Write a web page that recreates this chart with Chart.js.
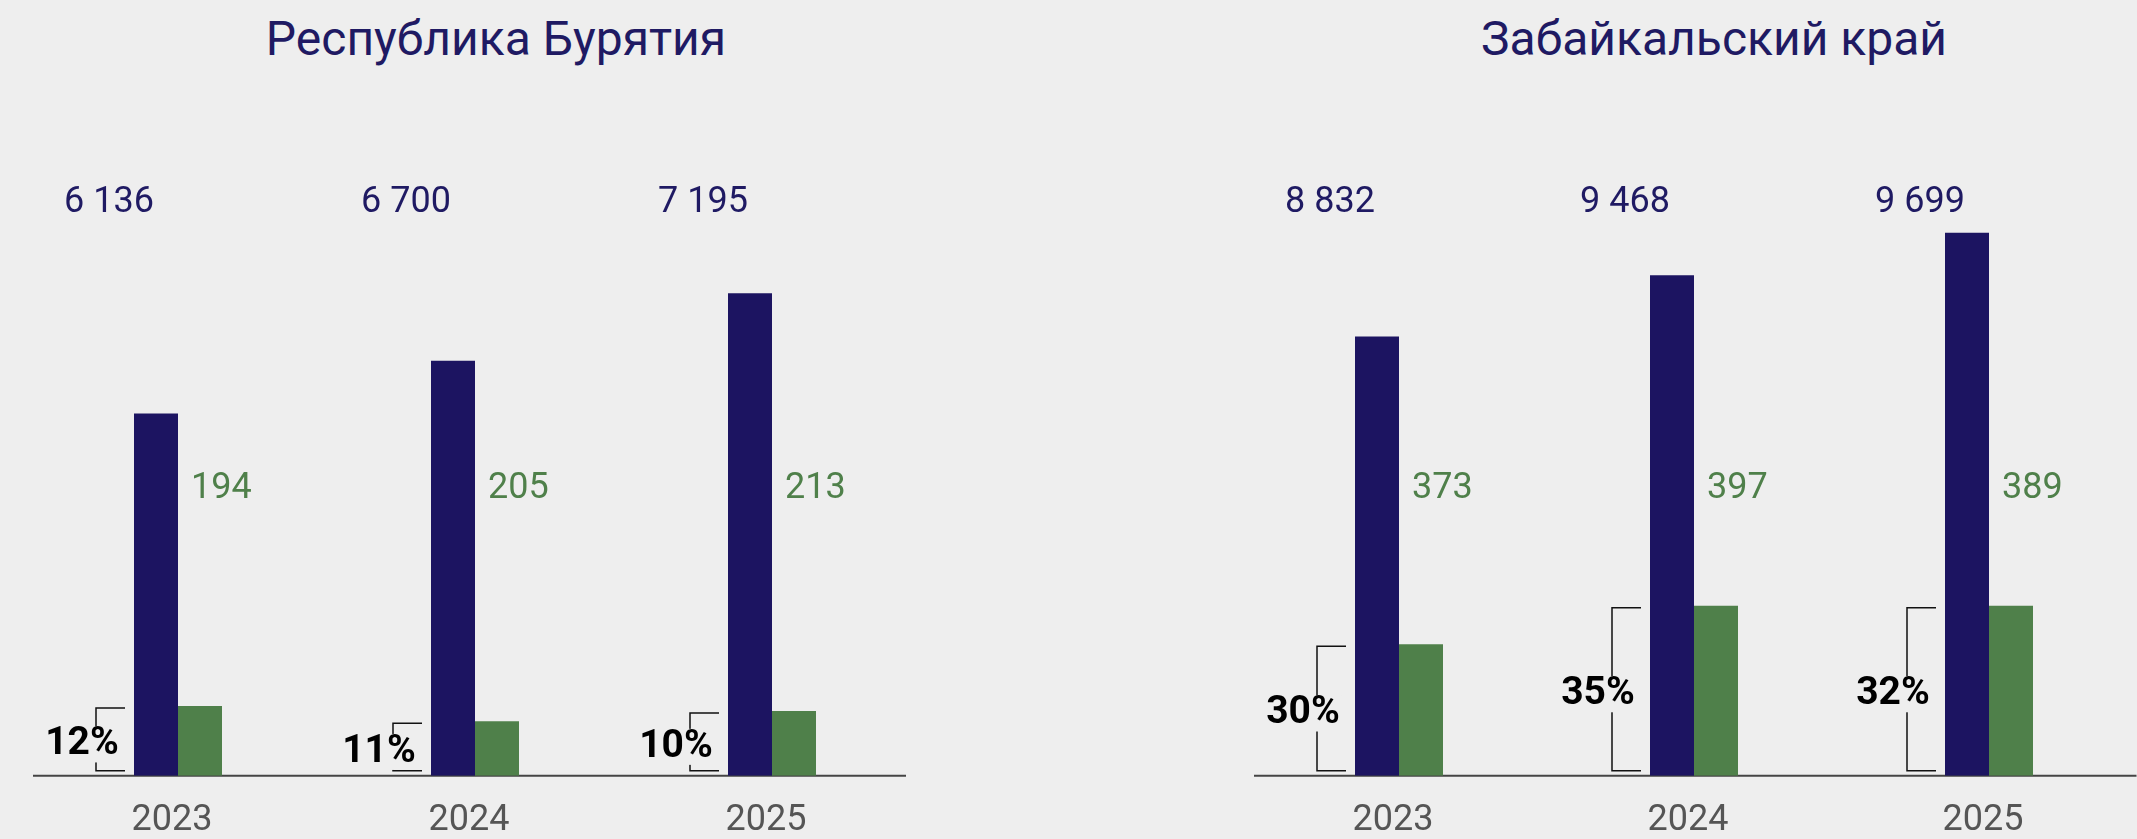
<!DOCTYPE html>
<html>
<head>
<meta charset="utf-8">
<script src="https://cdn.jsdelivr.net/npm/chart.js@4"></script>
<style>
  html, body { margin:0; padding:0; width:2137px; height:839px; overflow:hidden; background:#eeeeee; }
  .title { position:absolute; top:15px; font-family:Roboto, sans-serif; font-weight:400; font-size:48px; line-height:48px; color:#1f1a63; text-align:center; white-space:nowrap; }
  canvas { position:absolute; top:0; }
</style>
</head>
<body>
<div class="title" style="left:0;width:992px;">Республика Бурятия</div>
<div class="title" style="left:1291px;width:846px;">Забайкальский край</div>
<canvas id="left" width="1000" height="839" style="left:0"></canvas>
<canvas id="right" width="1037" height="839" style="left:1100px"></canvas>
<script>
// ---- data ----
const years = ['2023', '2024', '2025'];

// Республика Бурятия
const buryatiaTotal = [6136, 6700, 7195];
const buryatiaSmall = [194, 205, 213];
const buryatiaShare = [12, 11, 10];
// drawn bar heights (share of plot height, 0–100) as they appear in the picture
const buryatiaTotalBar = [60.3, 69.1, 80.3];
const buryatiaSmallBar = [11.6, 9.1, 10.8];

// Забайкальский край
const zabTotal = [8832, 9468, 9699];
const zabSmall = [373, 397, 389];
const zabShare = [30, 35, 32];
const zabTotalBar = [73.1, 83.3, 90.4];
const zabSmallBar = [21.9, 28.3, 28.3];

const NAVY = '#1c1461';
const GREEN = '#4f804a';
const FONT = 'Roboto, "Noto Sans", sans-serif';

function fmt(n) { return String(n).replace(/\B(?=(\d{3})+(?!\d))/g, ' '); }

const annot = {
  id: 'annot',
  beforeDatasetsDraw(chart, args, o) {
    const { ctx, chartArea, scales: { x, y } } = chart;
    const base = y.getPixelForValue(0);
    const x0 = x.getPixelForValue(0) - 145;
    const x1 = o.lineToEdge ? chartArea.right : x.getPixelForValue(x.max) + 134;
    ctx.save();
    ctx.strokeStyle = '#444444';
    ctx.lineWidth = 2;
    ctx.beginPath();
    ctx.moveTo(x0, base); ctx.lineTo(x1, base);
    ctx.stroke();
    ctx.restore();
  },
  afterDatasetsDraw(chart, args, o) {
    const { ctx, chartArea, scales: { x, y } } = chart;
    const base = y.getPixelForValue(0);
    ctx.save();
    o.total.forEach((v, i) => {
      const cx = x.getPixelForValue(i);
      // total label above
      ctx.font = '36px ' + FONT;
      ctx.fillStyle = '#1f1a63';
      ctx.textAlign = 'center';
      ctx.textBaseline = 'middle';
      ctx.fillText(fmt(v), cx - 69, chartArea.top + 28);
      // small value label
      ctx.fillStyle = GREEN;
      ctx.textAlign = 'left';
      ctx.fillText(fmt(o.small[i]), cx + 13, chartArea.top + 314);
      // bracket
      const top = y.getPixelForValue(o.smallBar[i]) + 2;
      const bot = base - 5;
      const vx = cx - 82, hx = cx - 53;
      ctx.strokeStyle = '#111111';
      ctx.lineWidth = 1.5;
      ctx.beginPath();
      ctx.moveTo(hx, top); ctx.lineTo(vx, top); ctx.lineTo(vx, bot); ctx.lineTo(hx, bot);
      ctx.stroke();
      // share text with background
      const txt = o.share[i] + '%';
      ctx.font = 'bold 39px ' + FONT;
      const w = ctx.measureText(txt).width;
      const ty = (top + bot) / 2 + 5;
      const tx = cx - 96;
      ctx.fillStyle = '#eeeeee';
      ctx.fillRect(tx - w / 2 - 2, ty - 18, w + 4, 36);
      ctx.fillStyle = '#000000';
      ctx.textAlign = 'center';
      ctx.fillText(txt, tx, ty);
    });
    ctx.restore();
  }
};

function makeChart(id, padLeft, padRight, catPct, totalBar, smallBar, total, small, share, lineToEdge) {
  return new Chart(document.getElementById(id), {
    type: 'bar',
    data: {
      labels: years,
      datasets: [
        { data: totalBar, backgroundColor: NAVY, categoryPercentage: catPct, barPercentage: 1 },
        { data: smallBar, backgroundColor: GREEN, categoryPercentage: catPct, barPercentage: 1 }
      ]
    },
    options: {
      responsive: false,
      animation: false,
      devicePixelRatio: 1,
      layout: { padding: { top: 175, bottom: -28, left: padLeft, right: padRight } },
      plugins: {
        legend: { display: false },
        tooltip: { enabled: false },
        annot: { total, small, share, smallBar, lineToEdge }
      },
      scales: {
        x: {
          offset: true,
          grid: { display: false, drawTicks: false },
          border: { display: false },
          ticks: { color: '#555555', font: { family: FONT, size: 36 }, padding: 24, labelOffset: -6 }
        },
        y: { display: false, min: 0, max: 100 }
      }
    },
    plugins: [annot]
  });
}

makeChart('left', 29.5, 79.5, 88 / 297, buryatiaTotalBar, buryatiaSmallBar, buryatiaTotal, buryatiaSmall, buryatiaShare, false);
makeChart('right', 151.5, 0.5, 88 / 295, zabTotalBar, zabSmallBar, zabTotal, zabSmall, zabShare, true);
</script>
</body>
</html>
